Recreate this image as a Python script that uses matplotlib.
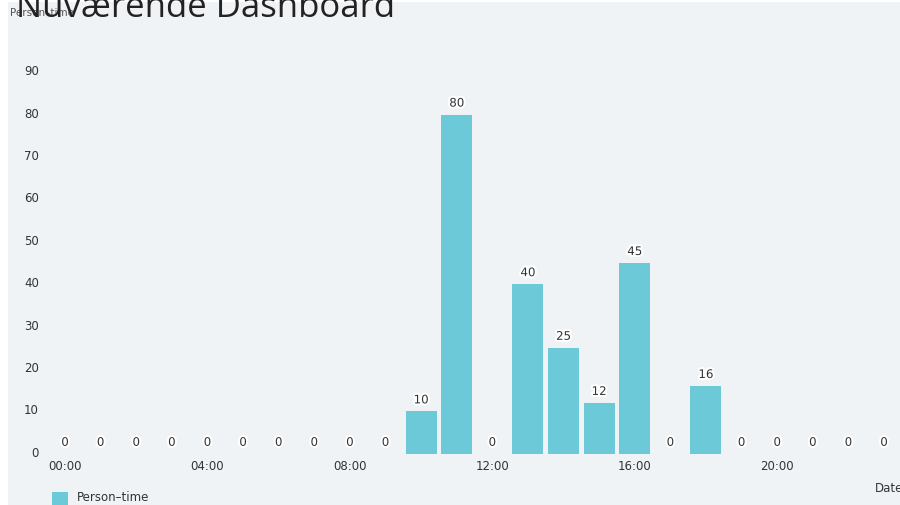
import matplotlib.pyplot as plt
import matplotlib.patheffects as pe
from matplotlib.patches import Rectangle
from matplotlib.transforms import ScaledTranslation

# DATA
hours = list(range(24))
person_time = [0, 0, 0, 0, 0, 0, 0, 0, 0, 0, 10, 80, 0, 40, 25, 12, 45, 0, 16, 0, 0, 0, 0, 0]
tick_hours = [0, 4, 8, 12, 16, 20]
tick_labels = ["00:00", "04:00", "08:00", "12:00", "16:00", "20:00"]
y_ticks = [0, 10, 20, 30, 40, 50, 60, 70, 80, 90]

bar_color = "#6cc9d8"
text_color = "#333333"
panel_color = "#eff3f5"

fig = plt.figure(figsize=(9, 5.06), dpi=100)
fig.patch.set_facecolor("white")

# light panel behind the chart
fig.patches.append(Rectangle((0.009, 0.0), 0.991, 0.994, transform=fig.transFigure,
                             facecolor=panel_color, edgecolor="none", zorder=-5))

ax = fig.add_axes([0.0524, 0.101, 0.9476, 0.838])
ax.set_facecolor("none")
ax.set_zorder(2)

ax.bar(hours, person_time, width=0.87, color=bar_color, zorder=2)

halo = [pe.withStroke(linewidth=3, foreground="white")]
for h, v in zip(hours, person_time):
    ax.text(h, v + 1.2, str(v), ha="center", va="bottom", fontsize=8.5,
            color=text_color, path_effects=halo, zorder=3)

ax.set_xlim(-0.5, 23.45)
ax.set_ylim(0, 100)
ax.set_xticks(tick_hours)
ax.set_xticklabels(tick_labels)
ax.set_yticks(y_ticks)
ax.tick_params(axis="both", length=0, labelsize=8.5, labelcolor=text_color)
ax.tick_params(axis="x", pad=4)
ax.tick_params(axis="y", pad=6)
for s in ax.spines.values():
    s.set_visible(False)

# y tick labels sit a little above their values in the original
shift = ScaledTranslation(0, 3 / 100, fig.dpi_scale_trans)
for lab in ax.get_yticklabels():
    lab.set_transform(lab.get_transform() + shift)

# axis names
fig.text(0.011, 0.974, "Person\u2013time", fontsize=7.5, color="#555555", va="center", zorder=3)
fig.text(0.972, 0.035, "Date", fontsize=8.5, color=text_color, va="center", zorder=3)

# legend
fig.patches.append(Rectangle((0.058, 0.0), 0.0178, 0.026, transform=fig.transFigure,
                             facecolor=bar_color, edgecolor="none", zorder=3))
fig.text(0.085, 0.016, "Person\u2013time", fontsize=8.5, color=text_color, va="center", zorder=3)

# dashboard title
fig.text(0.018, 0.966, "Nuværende Dashboard", fontsize=25, color="#222222",
         family="Open Sans", va="baseline", zorder=4)

fig.savefig("out.png", dpi=100)
